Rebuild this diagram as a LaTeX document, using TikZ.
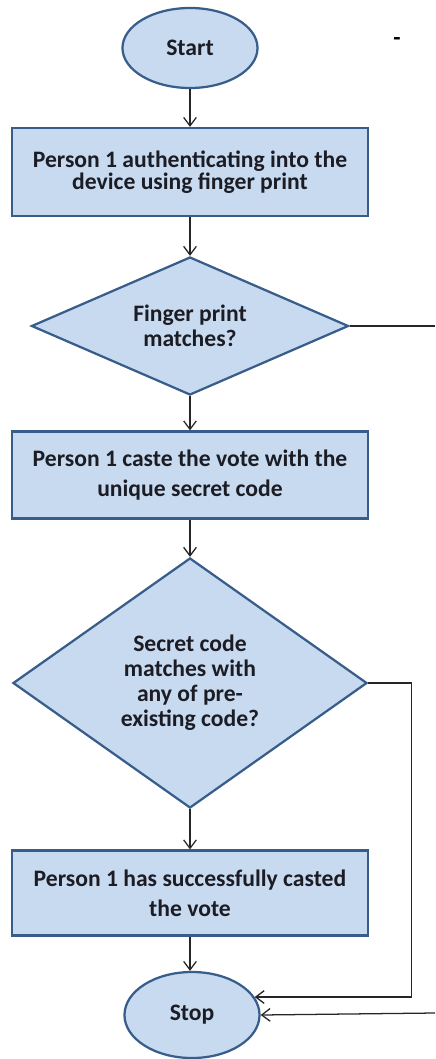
\documentclass[tikz,border=0pt]{standalone}
\usepackage{fontspec}
\setmainfont{Carlito}
\usepackage{tikz}
\usetikzlibrary{shapes.geometric, arrows.meta, positioning}
\definecolor{shapefill}{RGB}{200,218,240}
\definecolor{shapeline}{RGB}{56,93,138}
\definecolor{textdark}{RGB}{28,28,36}

\begin{document}
\begin{tikzpicture}[
    x=0.025cm, y=-0.025cm,
    terminal/.style={draw=shapeline, ellipse, line width=1.6pt, fill=shapefill, minimum width=3.375cm, minimum height=2cm, inner sep=0pt, text=textdark, font=\bfseries\fontsize{16.8}{17.8}\selectfont},
    process/.style={draw=shapeline, rectangle, line width=1.6pt, fill=shapefill, minimum width=8.9cm, minimum height=2.2cm, align=center, text=textdark, font=\bfseries\fontsize{16.8}{17.8}\selectfont},
    decision/.style={draw=shapeline, diamond, line width=1.6pt, fill=shapefill, inner sep=0pt, align=center, text=textdark, font=\bfseries\fontsize{16.8}{17.8}\selectfont},
    arrow/.style={-{Straight Barb[length=6pt, width=9pt]}, line width=0.9pt, draw=black!85},
    link/.style={line width=0.9pt, draw=black!85}
]
\useasboundingbox (0,0) rectangle (435,1059);

\node[terminal] (start) at (190,48) {Start};
\node[font=\bfseries\fontsize{16.8}{17.8}\selectfont] (dash) at (397,42) {-};
\node[process] (auth) at (190,172) {Person 1 authenticating into the\\[-2.2pt]device using finger print};
\node[decision, shape aspect=2.3, minimum width=7.925cm, minimum height=3.45cm] (fpcheck) at (190,326) {Finger print\\matches?};
\node[process, minimum height=2.175cm] (vote) at (190,475) {Person 1 caste the vote with the\\[3.5pt]unique secret code};
\node[decision, shape aspect=1.4, minimum width=8.85cm, minimum height=6.25cm] (codecheck) at (190,683) {Secret code\\matches with\\any of pre-\\existing code?};
\node[process, minimum height=2.125cm] (done) at (190,893) {Person 1 has successfully casted\\[3.5pt]the vote};
\node[terminal, minimum height=2.15cm] (stop) at (192,1015) {Stop};

\coordinate (edgetop) at (435,326);
\coordinate (edgebot) at (435,1013);

\draw[arrow] (start) -- (auth);
\draw[arrow] (auth) -- (fpcheck);
\draw[arrow] (fpcheck) -- (vote);
\draw[arrow] (vote) -- (codecheck);
\draw[arrow] (codecheck) -- (done);
\draw[arrow] (done.south) -- (done.south |- stop.north);
\draw[link] (fpcheck.east) -- (edgetop);
\draw[arrow] (codecheck.east) -- ++(43,0) |- (stop.16);
\draw[arrow] (edgebot) -- (stop.east);

\end{tikzpicture}
\end{document}
